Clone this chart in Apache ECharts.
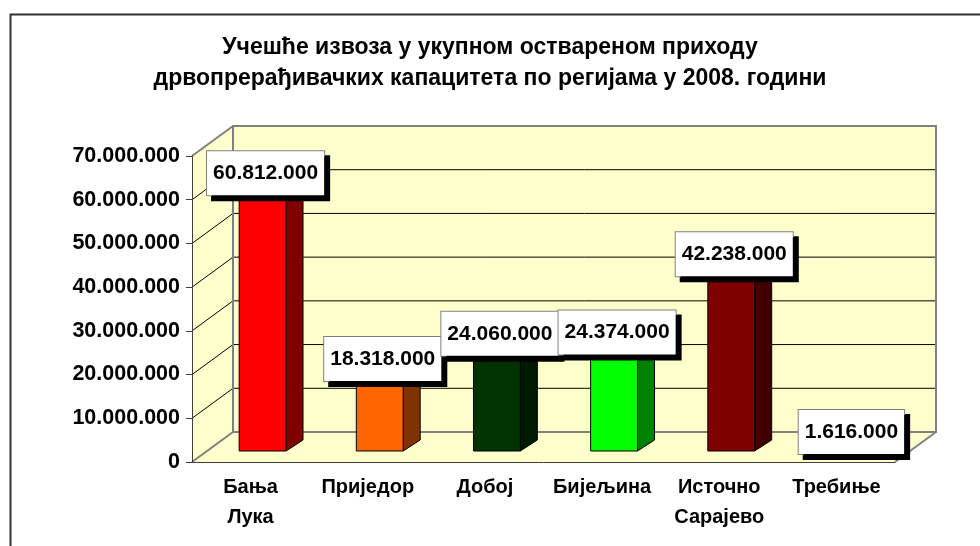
<!DOCTYPE html>
<html>
<head>
<meta charset="utf-8">
<script src="https://cdn.jsdelivr.net/npm/echarts@6/dist/echarts.min.js"></script>
<style>html,body{margin:0;padding:0;background:#fff;}#c{width:980px;height:546px;}</style>
</head>
<body>
<div id="c"></div>
<script>
const titleLines = ['Учешће извоза у укупном оствареном приходу', 'дрвопрерађивачких капацитета по регијама у 2008. години'];
const categories = ['Бања\nЛука', 'Приједор', 'Добој', 'Бијељина', 'Источно\nСарајево', 'Требиње'];
const values = [60812000, 18318000, 24060000, 24374000, 42238000, 1616000];
const frontColors = ['#FF0000', '#FF6600', '#003300', '#00FF00', '#800000', '#3366FF'];
const sideColors = ['#800000', '#803300', '#001A00', '#008000', '#400000', '#1A3380'];
const yTicks = [0, 10000000, 20000000, 30000000, 40000000, 50000000, 60000000, 70000000];

function fmt(v) { return String(v).replace(/\B(?=(\d{3})+(?!\d))/g, '.'); }

const DX = 41, DY = -30;      // wall depth offset
const BDX = 12, BDY = -11;    // bar front offset into depth
const SDX = 17, SDY = -11;    // bar side depth
const FONT = '"Liberation Sans", Arial, sans-serif';

const chart = echarts.init(document.getElementById('c'), null, {renderer: 'canvas'});

chart.setOption({
  backgroundColor: '#fff',
  animation: false,
  graphic: [{
    type: 'rect', left: 8, top: 12, z: 100,
    shape: {width: 1000, height: 600},
    style: {fill: 'none', stroke: '#333', lineWidth: 2}
  }],
  title: {
    text: titleLines.join('\n'),
    left: 'center', top: 27,
    textStyle: {fontFamily: FONT, fontWeight: 'bold', fontSize: 23, lineHeight: 31, color: '#000'}
  },
  grid: {left: 192, right: 85, top: 156, bottom: 84, containLabel: false},
  xAxis: {
    type: 'category', data: categories, z: 3,
    axisLine: {lineStyle: {color: '#404040', width: 1}},
    axisTick: {length: 6, lineStyle: {color: '#404040'}},
    axisLabel: {fontFamily: FONT, fontWeight: 'bold', fontSize: 20, lineHeight: 30, color: '#000', margin: 10, interval: 0}
  },
  yAxis: {
    type: 'value', min: 0, max: 70000000, interval: 10000000, z: 3,
    axisLine: {show: true, lineStyle: {color: '#404040', width: 1}},
    axisTick: {show: true, length: 6, lineStyle: {color: '#404040'}},
    splitLine: {show: false},
    axisLabel: {fontFamily: FONT, fontWeight: 'bold', fontSize: 21.5, color: '#000', margin: 12, formatter: fmt}
  },
  series: [
    {
      type: 'custom', z: 1, silent: true,
      data: [[0, 0]],
      renderItem: function (params, api) {
        const cs = params.coordSys;
        const x0 = cs.x, x1 = cs.x + cs.width, yb = cs.y + cs.height, yt = cs.y;
        const children = [];
        children.push({type: 'polygon', shape: {points: [[x0, yb], [x0, yt], [x0 + DX, yt + DY], [x1 + DX, yt + DY], [x1 + DX, yb + DY], [x1, yb]]},
          style: {fill: '#FFFFCC', stroke: null}});
        yTicks.forEach(function (t) {
          const y = api.coord([0, t])[1];
          if (t > 0 && t < 70000000) {
            children.push({type: 'line', shape: {x1: x0 + DX, y1: y + DY, x2: x1 + DX, y2: y + DY}, style: {stroke: '#000', lineWidth: 1}});
            children.push({type: 'line', shape: {x1: x0, y1: y, x2: x0 + DX, y2: y + DY}, style: {stroke: '#000', lineWidth: 1}});
          }
        });
        const g = {stroke: '#808080', lineWidth: 2};
        children.push({type: 'polyline', shape: {points: [[x0 + DX, yb + DY], [x0 + DX, yt + DY], [x1 + DX, yt + DY], [x1 + DX, yb + DY], [x0 + DX, yb + DY]]}, style: Object.assign({fill: null}, g)});
        children.push({type: 'line', shape: {x1: x0, y1: yt, x2: x0 + DX, y2: yt + DY}, style: g});
        children.push({type: 'line', shape: {x1: x0, y1: yb, x2: x0 + DX, y2: yb + DY}, style: g});
        children.push({type: 'line', shape: {x1: x1, y1: yb, x2: x1 + DX, y2: yb + DY}, style: g});
        return {type: 'group', children: children};
      }
    },
    {
      type: 'custom', z: 4, silent: true,
      data: values.map(function (v, i) { return [i, v]; }),
      encode: {x: 0, y: 1},
      renderItem: function (params, api) {
        const i = api.value(0), v = api.value(1);
        const base = api.coord([i, 0]), top = api.coord([i, v]);
        const bw = api.size([1, 0])[0];
        const fw = bw * 0.40;
        const cx = base[0] + BDX;
        const xl = cx - fw / 2, xr = cx + fw / 2;
        const yB = base[1] + BDY, yT = top[1] + BDY;
        const st = {stroke: '#000', lineWidth: 1};
        return {type: 'group', children: [
          {type: 'polygon', shape: {points: [[xr, yT], [xr + SDX, yT + SDY], [xr + SDX, yB + SDY], [xr, yB]]}, style: Object.assign({fill: sideColors[i]}, st)},
          {type: 'polygon', shape: {points: [[xl, yT], [xl + SDX, yT + SDY], [xr + SDX, yT + SDY], [xr, yT]]}, style: Object.assign({fill: frontColors[i]}, st)},
          {type: 'rect', shape: {x: xl, y: yT, width: fw, height: yB - yT}, style: Object.assign({fill: frontColors[i]}, st)}
        ]};
      }
    },
    {
      type: 'custom', z: 5, silent: true,
      data: values.map(function (v, i) { return [i, v]; }),
      encode: {x: 0, y: 1},
      renderItem: function (params, api) {
        const i = api.value(0), v = api.value(1);
        const base = api.coord([i, 0]), top = api.coord([i, v]);
        return {type: 'text', x: base[0] + 15, y: top[1] - 23,
          style: {text: fmt(v), font: 'bold 21px ' + FONT, fill: '#000', align: 'center', verticalAlign: 'middle',
            backgroundColor: '#fff', borderColor: '#808080', borderWidth: 1, padding: [12, 6, 11, 6],
            shadowColor: '#000', shadowBlur: 0, shadowOffsetX: 5, shadowOffsetY: 5}};
      }
    }
  ]
});
</script>
</body>
</html>
